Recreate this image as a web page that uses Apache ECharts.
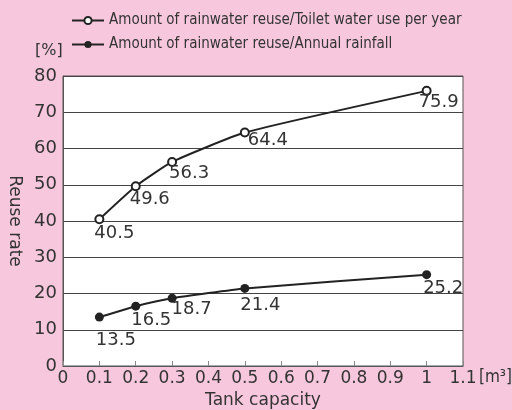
<!DOCTYPE html>
<html>
<head>
<meta charset="utf-8">
<script src="https://cdn.jsdelivr.net/npm/echarts@6/dist/echarts.min.js"></script>
<style>
  html, body { margin: 0; padding: 0; background: #f7c8dd; }
  #chart { width: 512px; height: 410px; }
</style>
</head>
<body>
<div id="chart"></div>
<script>
// Tank capacity [m3]
const capacity = [0.1, 0.2, 0.3, 0.5, 1.0];
// Reuse rate [%]
const toiletRatio = [40.5, 49.6, 56.3, 64.4, 75.9];
const rainfallRatio = [13.5, 16.5, 18.7, 21.4, 25.2];
const seriesNames = [
  'Amount of rainwater reuse/Toilet water use per year',
  'Amount of rainwater reuse/Annual rainfall'
];

// label placement relative to each point centre (left edge, vertical middle)
const toiletLabelOffsets = [[-4, 15], [-5, 14], [-2, 12], [4, 9], [-7, 12]];
const rainfallLabelOffsets = [[-3, 24], [-4, 15], [0, 12], [-4, 17], [-3, 14]];

const SYM = 8;
const numFont = 'DejaVu Sans';
const narrowFont = '"Liberation Sans Narrow", "DejaVu Sans Condensed", "Liberation Sans", sans-serif';

function build(values, offsets) {
  return values.map((v, i) => ({
    value: [capacity[i], v],
    label: {
      position: [SYM / 2 + offsets[i][0], SYM / 2 + offsets[i][1]]
    }
  }));
}

const labelStyle = {
  show: true,
  align: 'left',
  verticalAlign: 'middle',
  color: '#333',
  fontFamily: numFont,
  fontSize: 18,
  formatter: p => p.value[1].toFixed(1)
};

const chart = echarts.init(document.getElementById('chart'), null, { renderer: 'canvas' });
chart.setOption({
  backgroundColor: '#f7c8dd',
  animation: false,
  grid: {
    left: 63, right: 49, top: 76, bottom: 44,
    outerBoundsMode: 'none', containLabel: false,
    show: true, backgroundColor: '#ffffff', borderColor: '#555', borderWidth: 1
  },
  legend: {
    orient: 'vertical',
    left: 71, top: 13, padding: 0,
    itemWidth: 32, itemHeight: 9, itemGap: 9,
    textStyle: { fontFamily: narrowFont, fontSize: 15, color: '#333' },
    data: seriesNames
  },
  xAxis: {
    type: 'value', min: 0, max: 1.1, interval: 0.1,
    name: 'Tank capacity', nameLocation: 'middle', nameGap: 22,
    nameTextStyle: { fontFamily: numFont, fontSize: 17, color: '#333' },
    axisLine: { show: true, lineStyle: { color: '#555', width: 1 } },
    axisTick: { show: true, inside: true, length: 5, lineStyle: { color: '#888' } },
    splitLine: { show: false },
    axisLabel: {
      fontFamily: numFont, fontSize: 17, color: '#333', margin: 4,
      formatter: v => String(Math.round(v * 10) / 10)
    }
  },
  yAxis: {
    type: 'value', min: 0, max: 80, interval: 10,
    name: 'Reuse rate', nameLocation: 'middle', nameGap: 39, nameRotate: -90,
    nameTextStyle: { fontFamily: numFont, fontSize: 17, color: '#333' },
    axisLine: { show: true, lineStyle: { color: '#555', width: 1 } },
    axisTick: { show: false },
    splitLine: { show: true, lineStyle: { color: '#444', width: 1 } },
    axisLabel: { fontFamily: numFont, fontSize: 18, color: '#333', margin: 6 }
  },
  graphic: [
    { type: 'text', left: 35, top: 43,
      style: { text: '[%]', fontFamily: numFont, fontSize: 16, fill: '#333' } },
    { type: 'text', left: 479, top: 369,
      style: { text: '[m³]', fontFamily: narrowFont, fontSize: 17, fill: '#333' } }
  ],
  series: [
    {
      name: seriesNames[0], type: 'line', smooth: 0.15,
      symbol: 'emptyCircle', symbolSize: SYM,
      lineStyle: { color: '#222', width: 2 },
      itemStyle: { color: '#222', borderWidth: 1 },
      label: labelStyle,
      data: build(toiletRatio, toiletLabelOffsets)
    },
    {
      name: seriesNames[1], type: 'line', smooth: 0.15,
      symbol: 'circle', symbolSize: SYM + 1,
      lineStyle: { color: '#222', width: 2 },
      itemStyle: { color: '#222' },
      label: labelStyle,
      data: build(rainfallRatio, rainfallLabelOffsets)
    }
  ]
});
</script>
</body>
</html>
